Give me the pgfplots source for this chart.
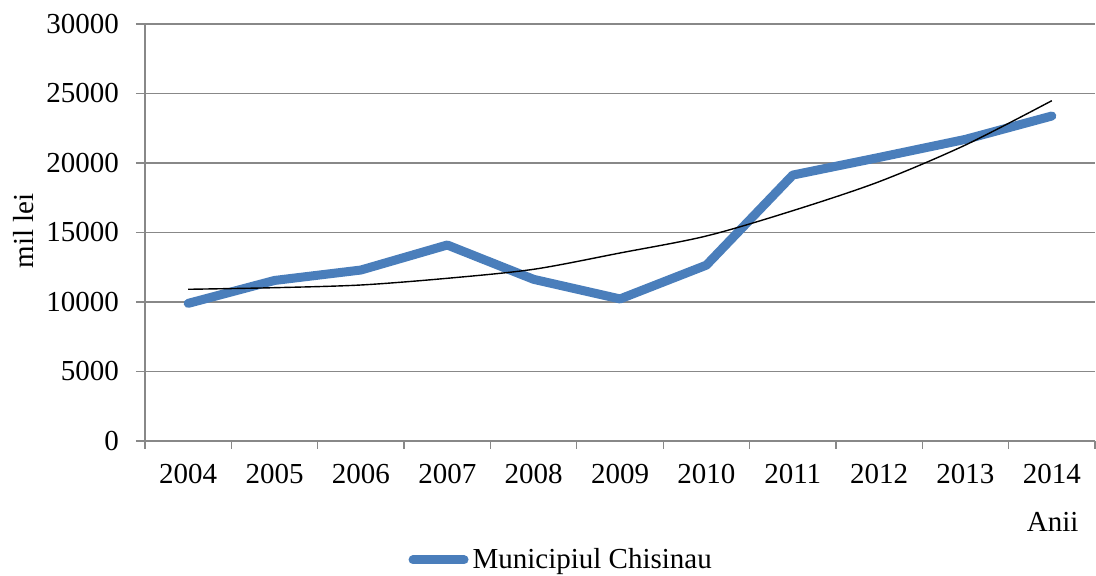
\documentclass[border=0pt]{standalone}
\usepackage{fontspec}
\setmainfont{Liberation Serif}
\usepackage{pgfplots}
\pgfplotsset{compat=1.18}
\definecolor{serieblue}{HTML}{4A7EBB}
\definecolor{axisgray}{HTML}{888888}

\begin{document}
\begin{tikzpicture}
\begin{axis}[
    at={(0,0)}, anchor=south west,
    scale only axis, width=475pt, height=208.5pt,
    xmin=-0.5, xmax=10.5, ymin=0, ymax=30000,
    axis lines*=left,
    axis line style={axisgray, line width=0.65pt},
    tick align=outside,
    xtick={0,...,10},
    xticklabels={2004,2005,2006,2007,2008,2009,2010,2011,2012,2013,2014},
    major x tick style={draw=none},
    minor xtick={-0.5,0.5,...,10.5},
    minor tick length=4pt,
    minor x tick style={axisgray, line width=0.65pt},
    ytick={0,5000,...,30000},
    major tick length=4.5pt,
    major y tick style={axisgray, line width=0.65pt},
    ymajorgrids, grid style={axisgray, line width=0.65pt},
    scaled y ticks=false,
    /pgf/number format/1000 sep={},
    /pgf/number format/assume math mode=true,
    tick label style={font=\fontsize{14.5}{17}\selectfont, text=black},
    xticklabel style={yshift=-3.5pt},
    yticklabel style={xshift=-5pt},
    ylabel={mil lei},
    ylabel style={font=\fontsize{14.5}{17}\selectfont, at={(axis description cs:-0.128,0.504)}, anchor=center, rotate=0},
    xlabel={Anii},
    xlabel style={font=\fontsize{14.5}{17}\selectfont, at={(axis description cs:0.99,-0.194)}, anchor=east},
    legend style={at={(axis description cs:0.277,-0.285)}, anchor=west,
        draw=none, fill=none, inner sep=0pt,
        font=\fontsize{14.5}{17}\selectfont},
    legend cell align=left,
    legend image code/.code={\draw[#1, line cap=round] (2.25pt,0pt) -- (27.75pt,0pt);},
    clip=false,
]
\addplot[serieblue, line width=4.5pt, line join=round, line cap=round]
  coordinates {(0,9900)(1,11550)(2,12300)(3,14100)(4,11630)(5,10220)
               (6,12650)(7,19130)(8,20400)(9,21700)(10,23380)};
\addlegendentry{Municipiul Chisinau}
\addplot[black, line width=0.7pt, smooth, forget plot]
  coordinates {(0,10914)(1,11029)(2,11223)(3,11705)(4,12353)(5,13525)
               (6,14748)(7,16568)(8,18655)(9,21295)(10,24482)};
\end{axis}
\path[use as bounding box] (-72.5pt,-67.5pt) rectangle (475.5pt,220.5pt);
\end{tikzpicture}
\end{document}
